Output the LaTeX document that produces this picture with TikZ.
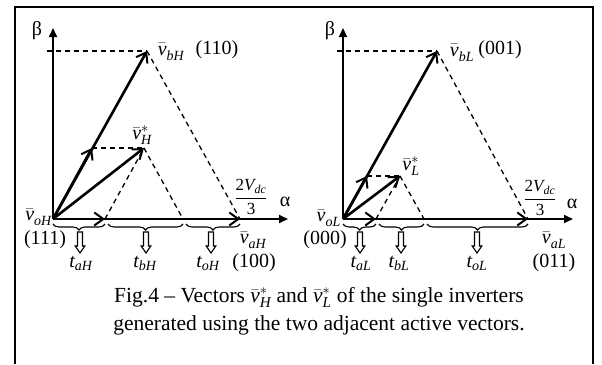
\documentclass[tikz,border=0pt]{standalone}
\usepackage{amsmath}
\usepackage{fontspec}
\setmainfont{Liberation Serif}
\usetikzlibrary{arrows.meta,decorations.pathreplacing,calc}

\newcommand{\vbar}[2]{$\bar{\textit{v}}_{\textit{#1}}^{#2}$}
\newcommand{\tsub}[1]{$\textit{t}_{\textit{#1}}$}
\newcommand{\vdcfrac}{$\dfrac{\textrm{2}\textit{V}_{\textit{dc}}}{\textrm{3}}$}

\begin{document}
\begin{tikzpicture}[
  x=1pt, y=-1pt,
  font=\fontsize{20}{24}\selectfont,
  vec/.style={line width=2.6pt, -{Straight Barb[length=9pt,width=13pt,line width=2pt]}},
  axis/.style={line width=1.8pt, -{Triangle[length=9pt,width=8pt]}},
  guide/.style={line width=1.3pt, dash pattern=on 5pt off 4pt},
  brc/.style={decorate, decoration={brace, mirror, amplitude=6pt}, line width=1.1pt},
  lbl/.style={inner sep=1pt},
  hollow/.pic={\draw[line width=1.1pt, fill=white] (-2.5,0) -- (-2.5,14) -- (-4.8,14) -- (0,21) -- (4.8,14) -- (2.5,14) -- (2.5,0) -- cycle;}
]
\useasboundingbox (0,0) rectangle (602,364);
\draw[line width=1.5pt] (15,364) -- (15,7) -- (593,7) -- (593,364);

% ── High inverter ─────────────────────────────────────────────
\coordinate (oH) at (53,219);
\coordinate (aH) at (240,219);
\coordinate (bH) at (147,51);
\coordinate (taH) at (105,219);
\coordinate (tbH) at (92,148);
\coordinate (sH) at ($(taH)+(tbH)-(oH)$);
\coordinate (dH) at (183,219);

\draw[axis] (oH) -- (53,28);
\draw[axis] (oH) -- (288,219);
\draw[guide] (47,51) -- (bH);
\draw[guide] (bH) -- (aH);
\draw[guide] (tbH) -- (sH);
\draw[guide] (taH) -- (sH);
\draw[guide] (sH) -- (dH);
\draw[vec] (oH) -- (bH);
\draw[vec] (oH) -- (tbH);
\draw[vec] (oH) -- (sH);
\draw[vec] (oH) -- (aH);
\draw[vec] (oH) -- (taH);

\draw[brc] (53,224) -- (105,224);
\draw[brc] (108,224) -- (183,224);
\draw[brc] (186,224) -- (240,224);
\pic at (80,232) {hollow};
\pic at (146,232) {hollow};
\pic at (211,232) {hollow};

\node[lbl] (beta1) at (37,31) {β};
\node[lbl] (alpha1) at (285,202) {α};
\node[lbl, anchor=east] (voH) at (53,217) {\vbar{oH}{}};
\node[lbl] (z111) at (45,240) {(111)};
\node[lbl] (vaH) at (253,240) {\vbar{aH}{}};
\node[lbl] (z100) at (254,263) {(100)};
\node[lbl] (vbH) at (171,52) {\vbar{bH}{}};
\node[lbl] (z110) at (217,50) {(110)};
\node[lbl] (vsH) at (142,135) {\vbar{H}{*}};
\node[lbl, font=\fontsize{17}{20}\selectfont] (fr1) at (251,197) {\vdcfrac};
\node[lbl] (taHl) at (81,263) {\tsub{aH}};
\node[lbl] (tbHl) at (145,263) {\tsub{bH}};
\node[lbl] (toHl) at (208,263) {\tsub{oH}};

% ── Low inverter ──────────────────────────────────────────────
\coordinate (oL) at (343,219);
\coordinate (aL) at (528,219);
\coordinate (bL) at (437,51);
\coordinate (taL) at (376,219);
\coordinate (tbL) at (367,176);
\coordinate (sL) at ($(taL)+(tbL)-(oL)$);
\coordinate (dL) at (424,219);

\draw[axis] (oL) -- (343,28);
\draw[axis] (oL) -- (573,219);
\draw[guide] (337,51) -- (bL);
\draw[guide] (bL) -- (aL);
\draw[guide] (tbL) -- (sL);
\draw[guide] (taL) -- (sL);
\draw[guide] (sL) -- (dL);
\draw[vec] (oL) -- (bL);
\draw[vec] (oL) -- (tbL);
\draw[vec] (oL) -- (sL);
\draw[vec] (oL) -- (aL);
\draw[vec] (oL) -- (taL);

\draw[brc] (343,224) -- (376,224);
\draw[brc] (379,224) -- (424,224);
\draw[brc] (427,224) -- (528,224);
\pic at (360,232) {hollow};
\pic at (401,232) {hollow};
\pic at (477,232) {hollow};

\node[lbl] (beta2) at (330,31) {β};
\node[lbl] (alpha2) at (572,204) {α};
\node[lbl, anchor=east] (voL) at (342,218) {\vbar{oL}{}};
\node[lbl] (z000) at (325,240) {(000)};
\node[lbl] (vaL) at (554,240) {\vbar{aL}{}};
\node[lbl] (z011) at (554,263) {(011)};
\node[lbl] (vbL) at (462,53) {\vbar{bL}{}};
\node[lbl] (z001) at (500,50) {(001)};
\node[lbl] (vsL) at (411,166) {\vbar{L}{*}};
\node[lbl, font=\fontsize{17}{20}\selectfont] (fr2) at (540,198) {\vdcfrac};
\node[lbl] (taLl) at (361,263) {\tsub{aL}};
\node[lbl] (tbLl) at (399,263) {\tsub{bL}};
\node[lbl] (toLl) at (477,263) {\tsub{oL}};

% ── Caption ───────────────────────────────────────────────────
\node[align=center, font=\fontsize{21.5}{28.5}\selectfont] (cap) at (319,311)
  {Fig.4 – Vectors \vbar{H}{*} and \vbar{L}{*} of the single inverters\\
   generated using the two adjacent active vectors.};
\end{tikzpicture}
\end{document}
